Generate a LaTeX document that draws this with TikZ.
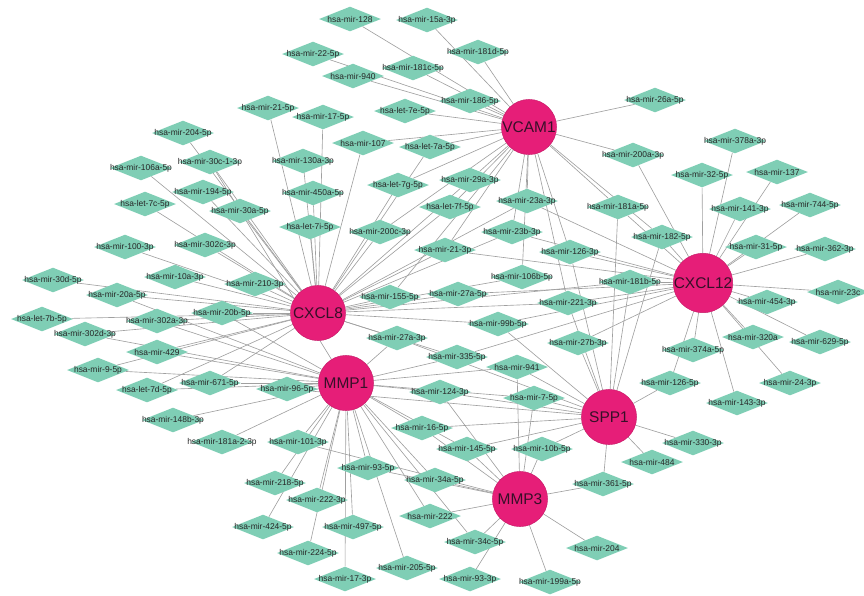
\documentclass[tikz,border=0pt]{standalone}
\usepackage{fontspec}
\setmainfont{Liberation Sans}
\usetikzlibrary{shapes.geometric}
\pgfdeclarelayer{background}
\pgfsetlayers{background,main}
\definecolor{hubpink}{RGB}{230,30,120}
\definecolor{hubtext}{RGB}{55,15,40}
\definecolor{mirgreen}{RGB}{127,206,181}
\definecolor{linkgray}{RGB}{160,160,160}
\tikzset{
  hub/.style={circle,fill=hubpink,draw=hubpink!85!black,line width=0.3pt,
    minimum size=1.38cm,inner sep=0pt,font=\fontsize{11}{11}\selectfont,text=hubtext},
  mir/.style={diamond,fill=mirgreen,minimum width=1.55cm,minimum height=0.62cm,
    inner sep=0pt,aspect=2.5},
  mirtext/.style={font=\fontsize{6}{6}\selectfont,text=black!85,inner sep=0pt},
  link/.style={linkgray,line width=0.45pt}
}
\begin{document}
\begin{tikzpicture}[x=0.025cm,y=-0.025cm]
  \useasboundingbox (0,0) rectangle (864,595);
  % miRNAs
  \foreach \n/\x/\y in {mir-128/350/19, mir-15a-3p/427/20, mir-181d-5p/478/52,
      mir-22-5p/313/54, mir-181c-5p/413/68, mir-940/353/76, mir-186-5p/470/101,
      mir-26a-5p/655/100, mir-21-5p/268/108, let-7e-5p/405/111, mir-17-5p/323/117,
      mir-204-5p/183/133, mir-107/363/143, let-7a-5p/430/147, mir-378a-3p/735/141,
      mir-200a-3p/633/155, mir-30c-1-3p/210/162, mir-130a-3p/303/161,
      mir-106a-5p/141/168, mir-32-5p/702/175, mir-137/777/172, mir-29a-3p/470/180,
      let-7g-5p/398/185, mir-194-5p/203/192, mir-450a-5p/313/193, mir-23a-3p/527/201,
      let-7c-5p/145/204, mir-744-5p/810/205, mir-181a-5p/618/207, let-7f-5p/450/207,
      mir-141-3p/740/209, mir-30a-5p/240/211, let-7i-5p/310/227, mir-200c-3p/380/232,
      mir-23b-3p/512/232, mir-182-5p/662/237, mir-302c-3p/205/245, mir-100-3p/125/247,
      mir-31-5p/756/247, mir-362-3p/825/249, mir-21-3p/445/250, mir-126-3p/570/252,
      mir-10a-3p/175/277, mir-106b-5p/522/277, mir-30d-5p/53/280, mir-181b-5p/630/282,
      mir-210-3p/255/284, mir-23c/838/292, mir-20a-5p/117/295, mir-155-5p/390/297,
      mir-27a-5p/458/294, mir-454-3p/767/302, mir-221-3p/568/303, mir-20b-5p/222/313,
      let-7b-5p/42/319, mir-302a-3p/157/321, mir-99b-5p/498/324, mir-302d-3p/85/334,
      mir-320a/753/337, mir-27a-3p/397/338, mir-629-5p/820/342, mir-27b-3p/578/343,
      mir-374a-5p/693/350, mir-429/157/352, mir-335-5p/457/357, mir-941/517/367,
      mir-9-5p/98/370, mir-671-5p/210/383, mir-126-5p/670/383, mir-24-3p/790/383,
      mir-96-5p/287/389, let-7d-5p/147/390, mir-124-3p/440/392, mir-7-5p/534/398,
      mir-143-3p/737/403, mir-148b-3p/173/420, mir-16-5p/422/428,
      mir-181a-2-3p/222/442, mir-101-3p/298/442, mir-330-3p/693/443,
      mir-145-5p/467/449, mir-10b-5p/542/449, mir-484/652/462, mir-93-5p/368/468,
      mir-34a-5p/435/480, mir-218-5p/275/483, mir-361-5p/603/484, mir-222-3p/317/500,
      mir-222/430/516, mir-424-5p/263/527, mir-497-5p/353/527, mir-34c-5p/475/542,
      mir-204/597/548, mir-224-5p/308/553, mir-205-5p/407/568, mir-17-3p/345/579,
      mir-93-3p/470/579, mir-199a-5p/550/582}
    \node[mir,label={[mirtext]center:hsa-\n}] (\n) at (\x,\y) {};
  % genes
  \node[hub] (VCAM1) at (529,127) {VCAM1};
  \node[hub] (CXCL8) at (318,313) {CXCL8};
  \node[hub] (MMP1) at (346,383) {MMP1};
  \node[hub] (CXCL12) at (703,283) {CXCL12};
  \node[hub] (SPP1) at (609,417) {SPP1};
  \node[hub] (MMP3) at (520,499) {MMP3};
  % links
  \begin{pgfonlayer}{background}
    \foreach \m in {mir-15a-3p, mir-181d-5p, mir-128, mir-181c-5p, mir-22-5p,
        mir-940, mir-186-5p, let-7e-5p, let-7a-5p, mir-107, let-7g-5p, mir-29a-3p,
        let-7f-5p, mir-200c-3p, mir-21-3p, mir-155-5p, mir-23a-3p, mir-23b-3p,
        mir-106b-5p, mir-126-3p, mir-181a-5p, mir-182-5p, mir-26a-5p, mir-200a-3p,
        mir-221-3p}
      \draw[link] (VCAM1) -- (\m);
    \foreach \m in {mir-378a-3p, mir-32-5p, mir-137, mir-744-5p, mir-141-3p,
        mir-31-5p, mir-362-3p, mir-23c, mir-454-3p, mir-629-5p, mir-320a, mir-24-3p,
        mir-374a-5p, mir-143-3p, mir-126-5p, mir-182-5p, mir-181b-5p, mir-181a-5p,
        mir-200a-3p, mir-126-3p, mir-221-3p, mir-23a-3p, mir-23b-3p, mir-21-3p,
        mir-27a-5p, mir-99b-5p, mir-27b-3p, mir-335-5p}
      \draw[link] (CXCL12) -- (\m);
    \foreach \m in {mir-330-3p, mir-484, mir-361-5p, mir-126-5p, mir-7-5p,
        mir-10b-5p, mir-16-5p, mir-941, mir-27b-3p, mir-181b-5p, mir-99b-5p,
        mir-124-3p, mir-145-5p, mir-27a-3p, mir-126-3p, mir-182-5p, mir-181a-5p,
        mir-221-3p, mir-96-5p}
      \draw[link] (SPP1) -- (\m);
    \foreach \m in {mir-204, mir-199a-5p, mir-93-3p, mir-34c-5p, mir-34a-5p,
        mir-361-5p, mir-10b-5p, mir-7-5p, mir-941, mir-145-5p, mir-222, mir-16-5p,
        mir-124-3p, mir-93-5p, mir-101-3p}
      \draw[link] (MMP3) -- (\m);
    \foreach \m in {mir-101-3p, mir-218-5p, mir-424-5p, mir-222-3p, mir-224-5p,
        mir-497-5p, mir-17-3p, mir-205-5p, mir-93-5p, mir-181a-2-3p, mir-148b-3p,
        mir-96-5p, mir-671-5p, let-7d-5p, mir-9-5p, mir-429, mir-302d-3p, mir-16-5p,
        mir-34a-5p, mir-222, mir-145-5p, mir-124-3p, mir-27a-3p, mir-335-5p,
        mir-302a-3p, mir-20b-5p, mir-20a-5p, mir-30c-1-3p, mir-34c-5p, mir-941,
        mir-7-5p}
      \draw[link] (MMP1) -- (\m);
    \foreach \m in {mir-204-5p, mir-30c-1-3p, mir-106a-5p, mir-194-5p, let-7c-5p,
        mir-30a-5p, mir-302c-3p, mir-100-3p, mir-10a-3p, mir-210-3p, mir-30d-5p,
        mir-20a-5p, mir-20b-5p, let-7b-5p, mir-302a-3p, mir-302d-3p, mir-429,
        mir-21-5p, mir-17-5p, mir-130a-3p, mir-450a-5p, let-7i-5p, mir-107,
        let-7g-5p, mir-200c-3p, let-7f-5p, mir-29a-3p, mir-21-3p, mir-23b-3p,
        mir-155-5p, mir-27a-5p, mir-99b-5p, mir-27a-3p, mir-106b-5p, mir-335-5p,
        let-7a-5p, mir-671-5p, let-7d-5p, mir-9-5p, mir-181b-5p, mir-221-3p,
        mir-23a-3p}
      \draw[link] (CXCL8) -- (\m);
  \end{pgfonlayer}
\end{tikzpicture}
\end{document}
